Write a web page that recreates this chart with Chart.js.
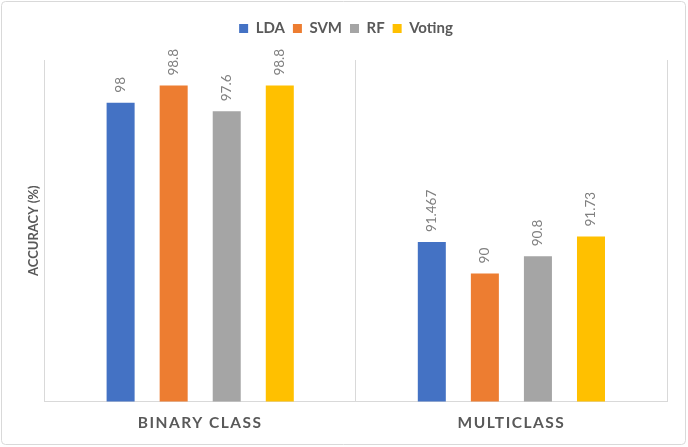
<!DOCTYPE html>
<html>
<head>
<meta charset="utf-8">
<script src="https://cdn.jsdelivr.net/npm/chart.js@4.4.1/dist/chart.umd.min.js"></script>
<style>
  html, body { margin: 0; padding: 0; background: #fff; }
  #wrap { width: 688px; height: 447px; position: relative; }
</style>
</head>
<body>
<div id="wrap"><canvas id="chart"></canvas></div>
<script>
// ----- datos ----- //
const categories = ["BINARY CLASS", "MULTICLASS"];
const seriesNames = ["LDA", "SVM", "RF", "Voting"];
const ldaValues = [98, 91.467];
const svmValues = [98.8, 90];
const rfValues = [97.6, 90.8];
const votingValues = [98.8, 91.73];
const seriesColors = ["#4472C4", "#ED7D31", "#A5A5A5", "#FFC000"];
const yMin = 84, yMax = 100;

const FONT = "Lato, 'Liberation Sans', sans-serif";
const GRAY = "#595959";

// etiquetas de valor giradas encima de cada barra
const valueLabels = {
    id: "valueLabels",
    afterDatasetsDraw(chart) {
        const ctx = chart.ctx;
        chart.data.datasets.forEach((ds, i) => {
            const meta = chart.getDatasetMeta(i);
            meta.data.forEach((bar, j) => {
                ctx.save();
                ctx.translate(bar.x, bar.y - 10);
                ctx.rotate(-Math.PI / 2);
                ctx.font = "13.5px " + FONT;
                ctx.fillStyle = "#7F7F7F";
                ctx.textAlign = "left";
                ctx.textBaseline = "middle";
                ctx.fillText(String(ds.data[j]), 0, 0);
                ctx.restore();
            });
        });
    }
};

// espacio extra bajo la leyenda + borde exterior + espaciado de letras del eje X
const layoutTweaks = {
    id: "layoutTweaks",
    beforeInit(chart) {
        const fit = chart.legend.fit;
        chart.legend.fit = function () {
            fit.bind(chart.legend)();
            this.height += 14;
        };
    },
    beforeDraw(chart) {
        const x = chart.scales.x;
        if (x && !x._spaced) {
            const orig = x.drawLabels;
            x.drawLabels = function (area) {
                this.ctx.save();
                this.ctx.letterSpacing = "1.5px";
                orig.call(this, area);
                this.ctx.restore();
            };
            x._spaced = true;
        }
        const ctx = chart.ctx;
        ctx.save();
        ctx.strokeStyle = "#D9D9D9";
        ctx.lineWidth = 1;
        ctx.beginPath();
        ctx.roundRect(1.5, 1.5, 684, 443, 4);
        ctx.stroke();
        ctx.restore();
    }
};

const values = [ldaValues, svmValues, rfValues, votingValues];

new Chart(document.getElementById("chart"), {
    type: "bar",
    data: {
        labels: categories,
        datasets: seriesNames.map((name, i) => ({
            label: name,
            data: values[i],
            backgroundColor: seriesColors[i],
            borderWidth: 0,
            categoryPercentage: 0.682,
            barPercentage: 0.528
        }))
    },
    options: {
        responsive: true,
        maintainAspectRatio: false,
        animation: false,
        layout: { padding: { left: 25, right: 21, top: 13, bottom: 2 } },
        plugins: {
            legend: {
                position: "top",
                labels: {
                    boxWidth: 9,
                    boxHeight: 9,
                    padding: 8,
                    color: GRAY,
                    font: { family: FONT, size: 15, weight: "bold" }
                }
            },
            tooltip: { enabled: false }
        },
        scales: {
            x: {
                grid: { display: true, color: "#D9D9D9", lineWidth: 1, drawTicks: false, offset: true },
                border: { display: true, color: "#D9D9D9" },
                ticks: { color: GRAY, padding: 12.5, font: { family: FONT, size: 15.5, weight: "bold" } }
            },
            y: {
                min: yMin,
                max: yMax,
                grid: { display: false, drawTicks: false },
                border: { display: false },
                ticks: { display: false },
                title: {
                    display: true,
                    text: "ACCURACY (%)",
                    color: GRAY,
                    padding: { top: 1, bottom: 3 },
                    font: { family: FONT, size: 13, weight: "bold" }
                }
            }
        }
    },
    plugins: [valueLabels, layoutTweaks]
});
</script>
</body>
</html>
